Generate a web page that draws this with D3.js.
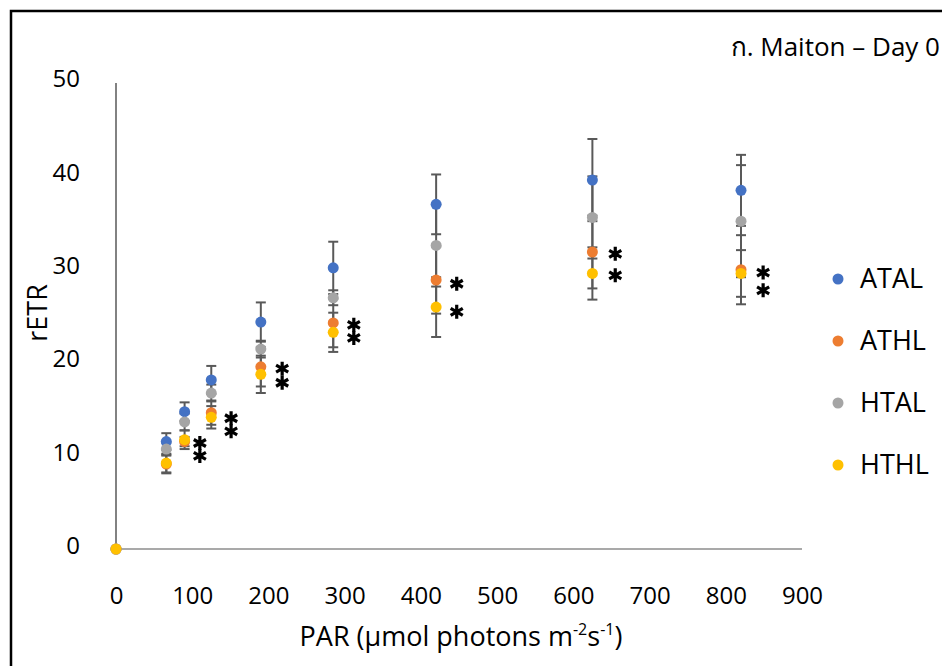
<!DOCTYPE html>
<html>
<head>
<meta charset="utf-8">
<script src="https://cdn.jsdelivr.net/npm/d3@7"></script>
<style>
  body { margin: 0; background: #fff; }
  svg { display: block; font-family: "Open Sans", "Noto Sans", sans-serif; }
</style>
</head>
<body>
<svg width="942" height="666"></svg>
<script>
// PAR steps of the light curve
let par = [0, 66, 90, 125, 190, 285, 420, 625, 820];

// rETR means and error (SD) per treatment
let atal    = [0, 11.5, 14.7, 18.1, 24.3, 30.1, 36.9, 39.5, 38.4];
let atalErr = [0, 0.9, 1.0, 1.5, 2.1, 2.8, 3.2, 4.4, 3.8];
let athl    = [0, 9.1, 11.5, 14.6, 19.5, 24.2, 28.8, 31.8, 29.9];
let athlErr = [0, 1.0, 0.5, 1.3, 2.1, 2.6, 3.6, 3.9, 3.7];
let htal    = [0, 10.7, 13.6, 16.7, 21.4, 26.9, 32.5, 35.5, 35.1];
let htalErr = [0, 0.7, 0.9, 0.9, 0.9, 0.8, 4.4, 4.4, 6.0];
let hthl    = [0, 9.2, 11.7, 14.1, 18.7, 23.2, 25.9, 29.5, 29.5];
let hthlErr = [0, 1.0, 1.0, 1.2, 2.0, 2.1, 3.2, 2.8, 2.5];

// significance marks (*) : PAR position and rETR level
let starPar = [110, 151, 218, 312, 447, 655, 849];
let starTop = [11.35, 14.0, 19.3, 24.0, 28.4, 31.6, 29.6];
let starLow = [9.96, 12.6, 17.8, 22.6, 25.4, 29.3, 27.7];

let xTicks = [0, 100, 200, 300, 400, 500, 600, 700, 800, 900];
let yTicks = [0, 10, 20, 30, 40, 50];

let seriesNames = ["ATAL", "ATHL", "HTAL", "HTHL"];
let colors = ["#4472C4", "#ED7D31", "#A5A5A5", "#FFC000"];

let series = [
    {name: "ATAL", values: atal, err: atalErr},
    {name: "ATHL", values: athl, err: athlErr},
    {name: "HTAL", values: htal, err: htalErr},
    {name: "HTHL", values: hthl, err: hthlErr}
];

let svg = d3.select("svg");

let x = d3.scaleLinear().domain([0, 900]).range([116, 802]);
let y = d3.scaleLinear().domain([0, 50]).range([549, 82]);
let color = d3.scaleOrdinal().domain(seriesNames).range(colors);

// outer frame (only top and left edges are visible in the picture)
svg.append("path")
    .attr("d", "M11,666 V11 H942")
    .attr("fill", "none")
    .attr("stroke", "#000")
    .attr("stroke-width", 2.5);

// axes
let yAxis = svg.append("g")
    .attr("transform", "translate(116,0)")
    .call(d3.axisLeft(y).tickValues(yTicks).tickSize(0).tickPadding(36));
yAxis.select(".domain").remove();
yAxis.selectAll("text")
    .attr("font-size", 24)
    .attr("font-family", "Open Sans")
    .attr("fill", "#000")
    .attr("transform", "translate(0,-3)");

let xAxis = svg.append("g")
    .attr("transform", "translate(0,549)")
    .call(d3.axisBottom(x).tickValues(xTicks).tickSize(0).tickPadding(38));
xAxis.select(".domain").remove();
xAxis.selectAll("text")
    .attr("font-size", 24)
    .attr("font-family", "Open Sans")
    .attr("fill", "#000");

svg.append("line")
    .attr("x1", x(0)).attr("x2", x(900))
    .attr("y1", y(0)).attr("y2", y(0))
    .attr("stroke", "#8c8c8c").attr("stroke-width", 1.5);
svg.append("line")
    .attr("x1", x(0)).attr("x2", x(0))
    .attr("y1", y(0)).attr("y2", y(50) + 1)
    .attr("stroke", "#595959").attr("stroke-width", 1.5);

// error bars
let capW = 5;
series.forEach(s => {
    let g = svg.append("g").attr("class", "err");
    par.forEach((p, i) => {
        if (s.err[i] === 0) return;
        let hi = y(s.values[i] + s.err[i]), lo = y(s.values[i] - s.err[i]);
        g.append("line")
            .attr("x1", x(p)).attr("x2", x(p))
            .attr("y1", hi).attr("y2", lo);
        g.append("line")
            .attr("x1", x(p) - capW).attr("x2", x(p) + capW)
            .attr("y1", hi).attr("y2", hi);
        g.append("line")
            .attr("x1", x(p) - capW).attr("x2", x(p) + capW)
            .attr("y1", lo).attr("y2", lo);
    });
    g.selectAll("line").attr("stroke", "#595959").attr("stroke-width", 2);
});

// points
series.forEach(s => {
    svg.append("g")
        .selectAll("circle")
        .data(par.map((p, i) => ({p: p, v: s.values[i]})))
        .enter().append("circle")
        .attr("cx", d => x(d.p))
        .attr("cy", d => y(d.v))
        .attr("r", 5.5)
        .attr("fill", color(s.name));
});

// asterisks
function asterisk(cx, cy) {
    let r = 7, d = "";
    [90, 30, 150].forEach(a => {
        let rad = a * Math.PI / 180;
        let dx = r * Math.cos(rad), dy = r * Math.sin(rad);
        d += "M" + (cx - dx) + "," + (cy - dy) + "L" + (cx + dx) + "," + (cy + dy);
    });
    return d;
}
let stars = svg.append("g");
starPar.forEach((p, i) => {
    [starTop[i], starLow[i]].forEach(v => {
        stars.append("path")
            .attr("d", asterisk(x(p), y(v)))
            .attr("stroke", "#000")
            .attr("stroke-width", 3.2)
            .attr("stroke-linecap", "butt");
    });
});

// legend
let legend = svg.append("g")
    .selectAll("g")
    .data(seriesNames)
    .enter().append("g")
    .attr("transform", (d, i) => "translate(838," + (279 + i * 62) + ")");
legend.append("circle")
    .attr("r", 5.5)
    .attr("fill", d => color(d));
legend.append("text")
    .attr("x", 22)
    .attr("dy", "0.35em")
    .attr("font-size", 27)
    .text(d => d);

// titles
svg.append("text")
    .attr("x", 940)
    .attr("y", 56)
    .attr("text-anchor", "end")
    .attr("font-size", 26)
    .text("ก. Maiton – Day 0");

svg.append("text")
    .attr("transform", "translate(47,313) rotate(-90)")
    .attr("text-anchor", "middle")
    .attr("font-size", 27)
    .text("rETR");

let xl = svg.append("text")
    .attr("x", 461)
    .attr("y", 646)
    .attr("text-anchor", "middle")
    .attr("font-size", 27);
xl.append("tspan").text("PAR (µmol photons m");
xl.append("tspan").attr("font-size", 16).attr("dy", -11).text("-2");
xl.append("tspan").attr("dy", 11).text("s");
xl.append("tspan").attr("font-size", 16).attr("dy", -11).text("-1");
xl.append("tspan").attr("dy", 11).text(")");
</script>
</body>
</html>
